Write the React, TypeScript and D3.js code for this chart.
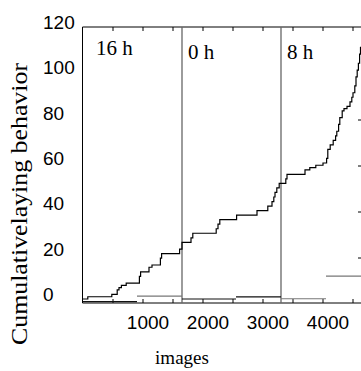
import React from 'react';
import * as d3 from 'd3';

// cumulative laying events: image index and cumulative count
const images = [0, 80, 480, 570, 600, 640, 720, 940, 960, 1100, 1150, 1290, 1310, 1610, 1650, 1800, 1830, 2220, 2250, 2280, 2560, 2900, 3080, 3150, 3180, 3200, 3230, 3270, 3380, 3400, 3700, 3780, 3880, 4000, 4060, 4080, 4120, 4170, 4210, 4230, 4260, 4280, 4320, 4350, 4400, 4450, 4480, 4500, 4530, 4550, 4570, 4590, 4610, 4625, 4700];
const cumulative = [0, 1, 2, 4, 5, 6, 7, 10, 12, 14, 15, 18, 20, 22, 25, 27, 29, 31, 33, 35, 37, 39, 41, 43, 45, 47, 49, 51, 53, 55, 57, 58, 59, 60, 62, 66, 68, 70, 72, 74, 77, 80, 83, 84, 85, 87, 89, 91, 94, 98, 101, 104, 108, 111, 120];

// secondary (baseline) series: segment starts and levels
const otherStart = [0, 900, 1650, 2550, 3300, 4050];
const otherEnd = [900, 1650, 2550, 3300, 4050, 4700];
const otherLevel = [-1.2, 1.3, 0, 0.9, 0.1, 10.1];

// day-phase boundaries and labels
const phaseStart = [0, 1650, 3300];
const phaseLabels = ['16 h', '0 h', '8 h'];

const yTicks = [0, 20, 40, 60, 80, 100, 120];
const xTickLabels = [1000, 2000, 3000, 4000];
const xMinorTicks = [500, 1000, 1500, 2000, 2500, 3000, 3500, 4000, 4500];
const rightTicks = [1, 2, 3, 4];

export default function App() {
  const W = 361, H = 371;
  const x = d3.scaleLinear().domain([0, 1000]).range([83, 143]);
  const y = d3.scaleLinear().domain([0, 120]).range([299, 27]);
  const yR = d3.scaleLinear().domain([0, 4]).range([304, 120]);
  const top = 27, bottom = 303, left = 82.5;

  const pts: [number, number][] = images.map((im, i) => [im, cumulative[i]]);
  const line = d3.line<[number, number]>()
    .x(d => x(d[0]))
    .y(d => y(d[1]))
    .curve(d3.curveStepAfter);

  const segColors = ['#111', '#777', '#111', '#111', '#777', '#777'];
  const numFont = '"Liberation Sans", Arial, sans-serif';
  const serif = '"Liberation Serif", "Times New Roman", serif';

  return (
    <svg width={W} height={H} style={{ position: 'absolute', left: 0, top: 0, background: '#fff' }}>
      <defs>
        <clipPath id="plot">
          <rect x={left} y={top - 2} width={W - left} height={bottom - top + 2} />
        </clipPath>
      </defs>
      {/* frame */}
      <line x1={left} x2={W} y1={top} y2={top} stroke="#000" strokeWidth={1} />
      <line x1={left} x2={left} y1={top} y2={bottom} stroke="#000" strokeWidth={1} />
      <line x1={left} x2={W} y1={bottom} y2={bottom} stroke="#000" strokeWidth={1} />
      {xMinorTicks.map(t => (
        <g key={t}>
          <line x1={x(t)} x2={x(t)} y1={top} y2={top + 4} stroke="#000" />
          <line x1={x(t)} x2={x(t)} y1={bottom} y2={bottom - 4} stroke="#000" />
        </g>
      ))}
      {rightTicks.map(t => (
        <line key={t} x1={358} x2={W + 2} y1={yR(t)} y2={yR(t)} stroke="#000" />
      ))}
      {/* phase boundaries */}
      {phaseStart.slice(1).map(p => (
        <line key={p} x1={x(p)} x2={x(p)} y1={top} y2={bottom} stroke="#666" strokeWidth={1.3} />
      ))}
      {phaseLabels.map((lab, i) => (
        <text key={lab} x={x(phaseStart[i]) + (i === 0 ? 13 : 6)} y={i === 0 ? 55 : 59}
          fontFamily={serif} fontSize={21} fill="#000">{lab}</text>
      ))}
      <g clipPath="url(#plot)">
        {otherStart.map((s, i) => (
          <line key={s} x1={x(s)} x2={x(otherEnd[i])} y1={y(otherLevel[i])} y2={y(otherLevel[i])}
            stroke={segColors[i]} strokeWidth={1.2} />
        ))}
        <path d={line(pts) || ''} fill="none" stroke="#000" strokeWidth={1.2} />
      </g>
      {/* y labels */}
      {yTicks.map(t => (
        <text key={t} x={43} y={y(t) + 2} fontFamily={numFont} fontSize={19} fill="#000">{t}</text>
      ))}
      {/* x labels */}
      {xTickLabels.map(t => (
        <text key={t} x={x(t) + 5} y={329} textAnchor="middle" fontFamily={numFont} fontSize={19} fill="#000">{t}</text>
      ))}
      <text x={182} y={364} textAnchor="middle" fontFamily={serif} fontSize={19} fill="#000">images</text>
      <text transform="translate(27,204) rotate(-90)" textAnchor="middle" fontFamily={serif} fontSize={23}
        textLength={282} lengthAdjust="spacingAndGlyphs" fill="#000">Cumulativelaying behavior</text>
    </svg>
  );
}
